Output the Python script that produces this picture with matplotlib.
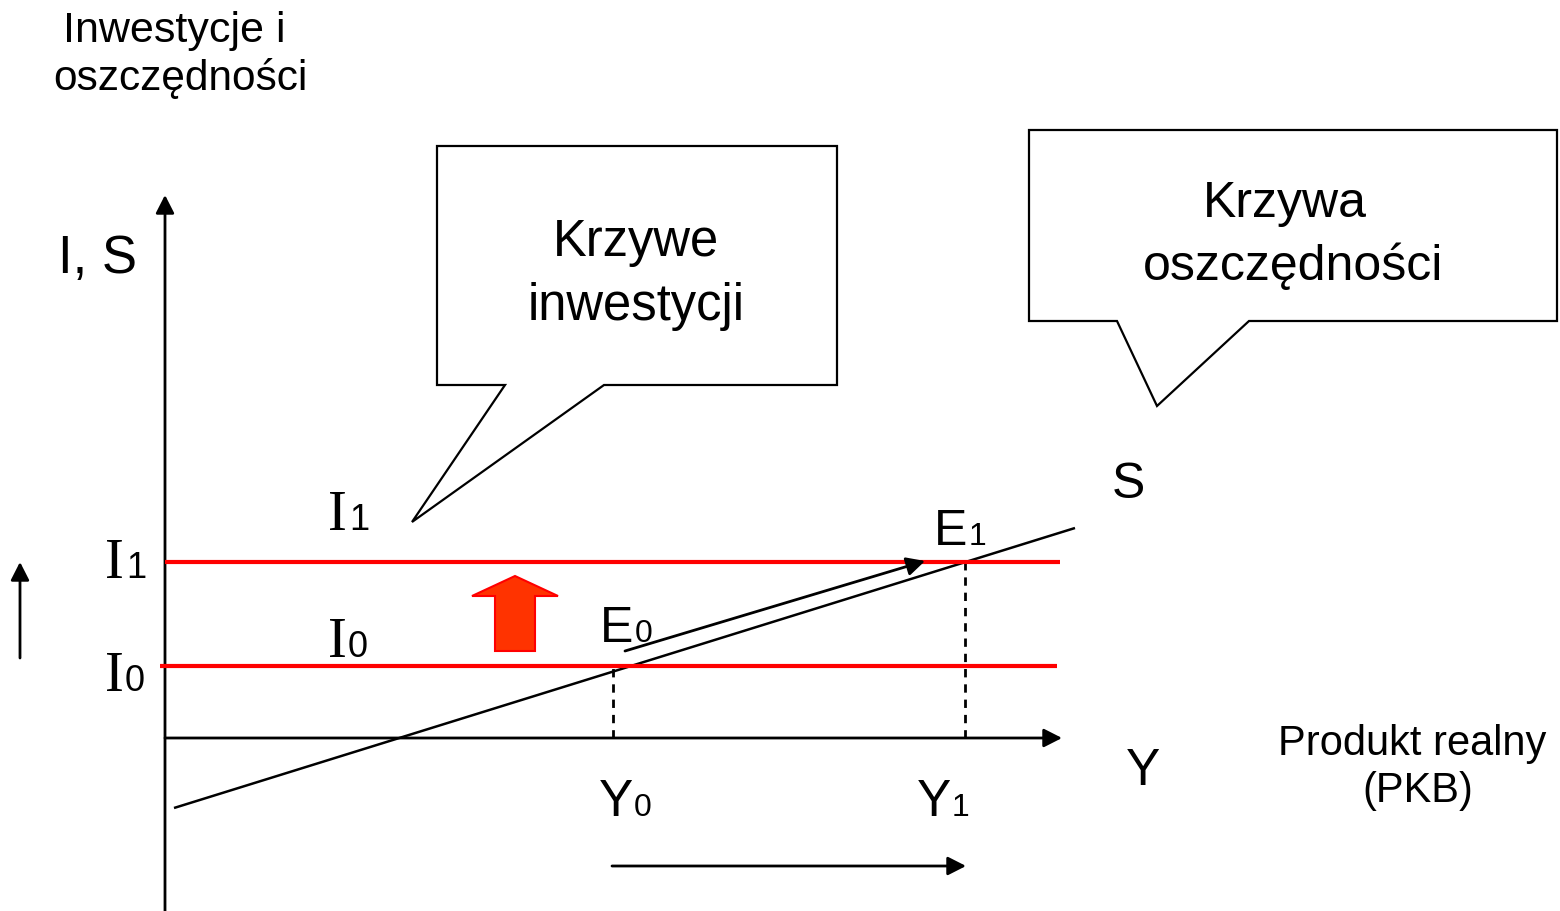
import matplotlib
matplotlib.use("Agg")
import matplotlib.pyplot as plt
from matplotlib.patches import Polygon

# ---------------- data (model units: origin at the axes crossing) ----------------
I_levels = [72, 176]            # I0, I1 (investment levels)
I_labels = ["0", "1"]
I_x_start = [-5, 0]
I_x_end = [892, 895]
S_x = [9, 910]                  # savings curve end points
S_y = [-70, 210]
Y_levels = [448, 800]           # Y0, Y1 (equilibrium output)
Y_labels = ["0", "1"]
E_labels = ["0", "1"]
shift_arrow_from = (460, 87)    # movement E0 -> E1 along S
shift_arrow_to = (760, 177)

OX, OY = 165, 739               # pixel position of the origin


def P(px, py):
    """Convert picture pixel position into the model coordinates."""
    return (px - OX, OY - py)


SANS = ["Liberation Sans", "DejaVu Sans"]
SERIF = ["Liberation Serif", "DejaVu Serif"]
plt.rcParams["font.family"] = SANS

fig = plt.figure(figsize=(15.6, 9.12), dpi=100)
ax = fig.add_axes([0, 0, 1, 1])
ax.set_xlim(-OX, 1560 - OX)
ax.set_ylim(OY - 912, OY)
ax.axis("off")

arrow_kw = dict(arrowstyle="-|>,head_length=0.55,head_width=0.28",
                color="black", lw=2.0, mutation_scale=20,
                shrinkA=0, shrinkB=0)

# axes
ax.annotate("", xy=P(165, 196), xytext=P(165, 912), arrowprops=arrow_kw)
ax.annotate("", xy=P(1062, 739), xytext=P(165, 739), arrowprops=arrow_kw)

# savings curve
ax.plot(S_x, S_y, color="black", lw=1.8, solid_capstyle="butt", zorder=3)

# dashed drop lines
for yl, il in zip(Y_levels, I_levels):
    ax.plot([yl, yl], [0, il], color="black", lw=2.0, ls=(0, (3, 2.5)), zorder=2)

# investment lines
for il, xs, xe in zip(I_levels, I_x_start, I_x_end):
    ax.plot([xs, xe], [il, il], color="#FF0000", lw=3.0,
            solid_capstyle="butt", zorder=4)

# movement arrow along S
ax.annotate("", xy=shift_arrow_to, xytext=shift_arrow_from,
            arrowprops=arrow_kw, zorder=5)

# output increase arrow (bottom) and investment increase arrow (left)
ax.annotate("", xy=P(966, 867), xytext=P(612, 867), arrowprops=arrow_kw)
ax.annotate("", xy=P(20, 563), xytext=P(20, 659), arrowprops=arrow_kw)

# red block arrow
cx, by, ty = P(515, 652)[0], P(515, 652)[1], P(515, 577)[1]
sh, hh, hl = 20, 43, 20
block = [(cx - sh, by), (cx + sh, by), (cx + sh, ty - hl), (cx + hh, ty - hl),
         (cx, ty), (cx - hh, ty - hl), (cx - sh, ty - hl)]
ax.add_patch(Polygon(block, closed=True, facecolor="#FF3300",
                     edgecolor="#FF0000", lw=1.5, zorder=4))

# callouts
def callout(box, ptr):
    (x0, y0), (x1, y1) = P(*box[0]), P(*box[1])
    pa, tip, pb = P(*ptr[0]), P(*ptr[1]), P(*ptr[2])
    pts = [(x0, y0), (x1, y0), (x1, y1), pb, tip, pa, (x0, y1)]
    ax.add_patch(Polygon(pts, closed=True, facecolor="white",
                         edgecolor="black", lw=1.6, joinstyle="miter", zorder=6))

callout(((437, 147), (837, 386)), ((505, 386), (412, 523), (604, 386)))
callout(((1029, 131), (1557, 322)), ((1117, 322), (1157, 407), (1249, 322)))


def txt(px, py, s, size, ha="left", family=SANS, z=7):
    x, y = P(px, py)
    ax.text(x, y, s, fontsize=size, ha=ha, va="baseline",
            family=family, color="black", zorder=z)


# titles / callout texts
txt(174, 42, "Inwestycje i", 31, ha="center")
txt(180, 90, "oszczędności", 30.5, ha="center")
txt(58, 273, "I, S", 38)
txt(636, 256, "Krzywe", 36.5, ha="center")
txt(636, 320, "inwestycji", 36.5, ha="center")
txt(1285, 217, "Krzywa", 36, ha="center")
txt(1293, 280, "oszczędności", 36, ha="center")
txt(1412, 755, "Produkt realny", 30, ha="center")
txt(1418, 802, "(PKB)", 30, ha="center")

# curve / axis letters
txt(1112, 498, "S", 36)
txt(1126, 785, "Y", 37)

# I labels (serif I with sans subscript)
for (pxI, pyI), (pxs, sub) in [((105, 578), (126, I_labels[1])),
                               ((105, 691), (125, I_labels[0])),
                               ((328, 530), (349, I_labels[1])),
                               ((328, 657), (348, I_labels[0]))]:
    txt(pxI, pyI, "I", 41, family=SERIF)
    txt(pxs, pyI, sub, 26)

# E labels
txt(600, 642, "E", 36)
txt(635, 642, E_labels[0], 23)
txt(934, 545, "E", 36)
txt(969, 545, E_labels[1], 23)

# Y labels
txt(599, 816, "Y", 37)
txt(634, 816, Y_labels[0], 23)
txt(917, 816, "Y", 37)
txt(952, 816, Y_labels[1], 23)

fig.savefig("out.png", dpi=100, facecolor="white")
